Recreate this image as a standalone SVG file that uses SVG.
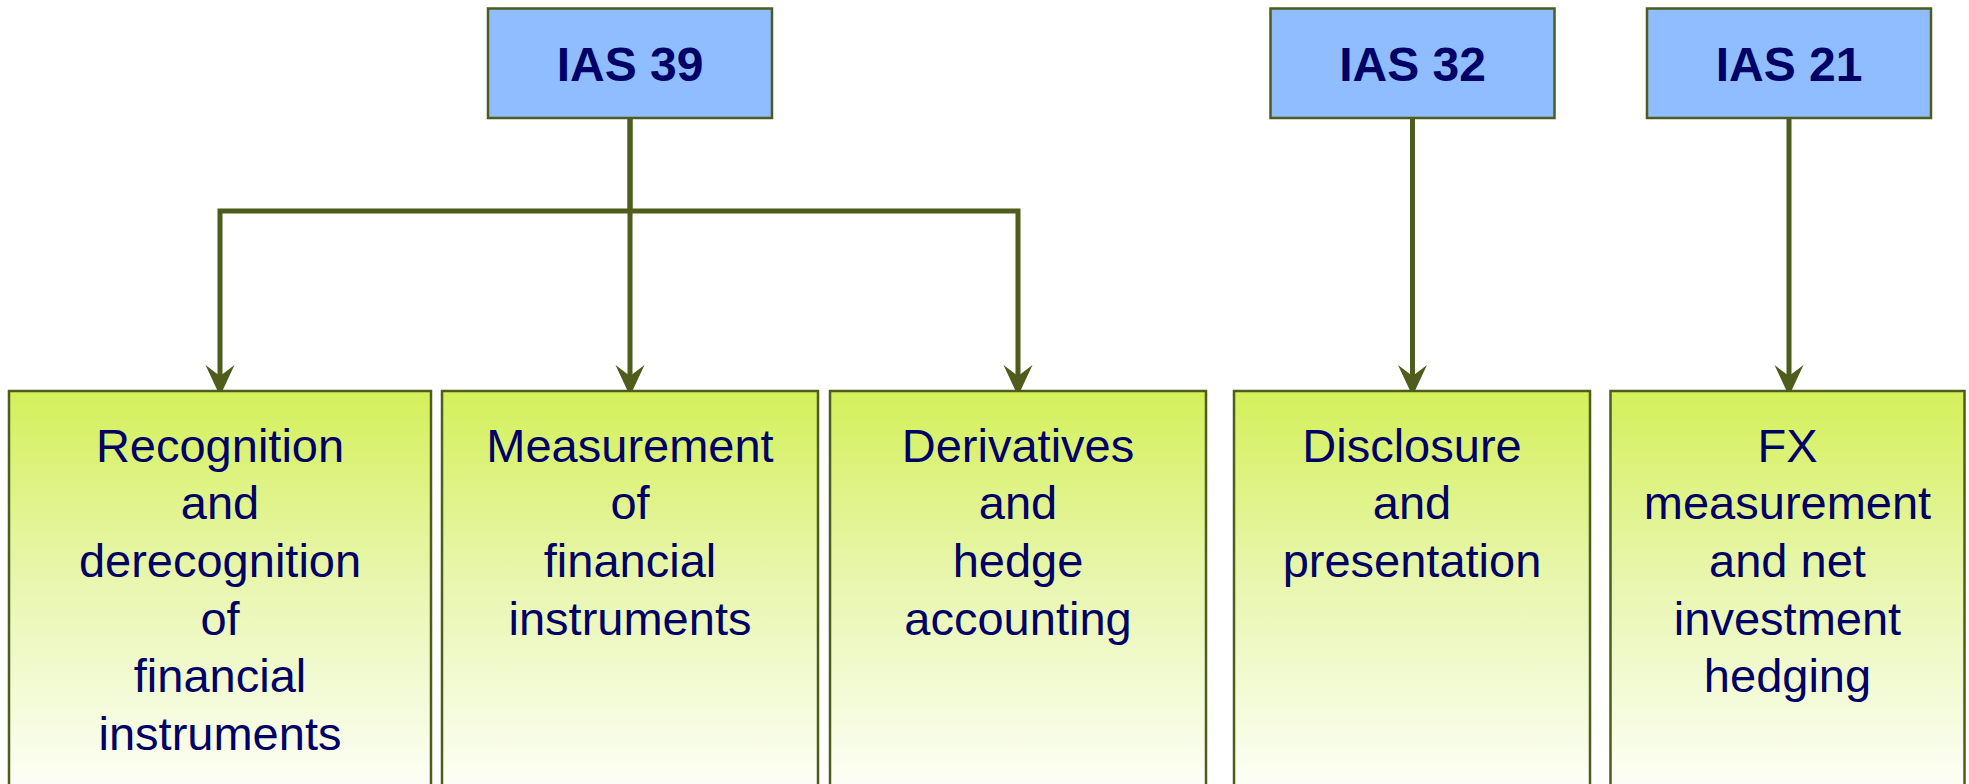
<svg xmlns="http://www.w3.org/2000/svg" width="1969" height="784" viewBox="0 0 1969 784">
  <style>
    .std { fill: #8fbdff; stroke: #4e5c1c; stroke-width: 2.5; }
    .topic { fill: url(#lime); stroke: #4e5c1c; stroke-width: 2.5; }
    .std-label { font-family: "Liberation Sans", Arial, sans-serif; font-weight: bold; font-size: 48px; fill: #000066; text-anchor: middle; }
    .topic-label { font-family: "Liberation Sans", Arial, sans-serif; font-size: 47px; fill: #000066; text-anchor: middle; }
    .link { fill: none; stroke: #4e5c1c; stroke-width: 5; }
    .head { fill: #4e5c1c; }
  </style>
  <defs>
    <linearGradient id="lime" x1="0" y1="0" x2="0" y2="1">
      <stop offset="0" stop-color="#d4f05a"/>
      <stop offset="0.45" stop-color="#e8f6ae"/>
      <stop offset="1" stop-color="#ffffff"/>
    </linearGradient>
    <!-- barbed arrowhead, tip at (0,0), pointing down -->
    <path id="head" d="M-14.5 -31 L0 -20 L14.5 -31 L0 0 Z"/>
  </defs>

  <rect width="1969" height="784" fill="#ffffff"/>

  <!-- connectors -->
  <g id="connectors">
    <path class="link" d="M630 118 V211 H220 V390"/>
    <path class="link" d="M630 211 H1018 V390"/>
    <path class="link" d="M630 118 V390"/>
    <path class="link" d="M1412.5 118 V390"/>
    <path class="link" d="M1789 118 V390"/>
    <use href="#head" class="head" x="220" y="396"/>
    <use href="#head" class="head" x="630" y="396"/>
    <use href="#head" class="head" x="1018" y="396"/>
    <use href="#head" class="head" x="1412.5" y="396"/>
    <use href="#head" class="head" x="1789" y="396"/>
  </g>

  <!-- standards -->
  <g id="ias39">
    <rect class="std" x="488" y="8.5" width="284" height="109.5"/>
    <text class="std-label" x="630" y="81">IAS 39</text>
  </g>
  <g id="ias32">
    <rect class="std" x="1270.5" y="8.5" width="284" height="109.5"/>
    <text class="std-label" x="1412.5" y="81">IAS 32</text>
  </g>
  <g id="ias21">
    <rect class="std" x="1647" y="8.5" width="284" height="109.5"/>
    <text class="std-label" x="1789" y="81">IAS 21</text>
  </g>

  <!-- topics -->
  <g id="recognition">
    <rect class="topic" x="9" y="391" width="422" height="420"/>
    <text class="topic-label"><tspan x="220" y="461.5">Recognition</tspan><tspan x="220" y="519.2">and</tspan><tspan x="220" y="576.9">derecognition</tspan><tspan x="220" y="634.6">of</tspan><tspan x="220" y="692.3">financial</tspan><tspan x="220" y="750">instruments</tspan></text>
  </g>
  <g id="measurement">
    <rect class="topic" x="442" y="391" width="376" height="420"/>
    <text class="topic-label"><tspan x="630" y="461.5">Measurement</tspan><tspan x="630" y="519.2">of</tspan><tspan x="630" y="576.9">financial</tspan><tspan x="630" y="634.6">instruments</tspan></text>
  </g>
  <g id="derivatives">
    <rect class="topic" x="830" y="391" width="376" height="420"/>
    <text class="topic-label"><tspan x="1018" y="461.5">Derivatives</tspan><tspan x="1018" y="519.2">and</tspan><tspan x="1018" y="576.9">hedge</tspan><tspan x="1018" y="634.6">accounting</tspan></text>
  </g>
  <g id="disclosure">
    <rect class="topic" x="1234" y="391" width="356" height="420"/>
    <text class="topic-label"><tspan x="1412" y="461.5">Disclosure</tspan><tspan x="1412" y="519.2">and</tspan><tspan x="1412" y="576.9">presentation</tspan></text>
  </g>
  <g id="fx">
    <rect class="topic" x="1610.5" y="391" width="354" height="420"/>
    <text class="topic-label"><tspan x="1787.5" y="461.5">FX</tspan><tspan x="1787.5" y="519.2">measurement</tspan><tspan x="1787.5" y="576.9">and net</tspan><tspan x="1787.5" y="634.6">investment</tspan><tspan x="1787.5" y="692.3">hedging</tspan></text>
  </g>
</svg>
